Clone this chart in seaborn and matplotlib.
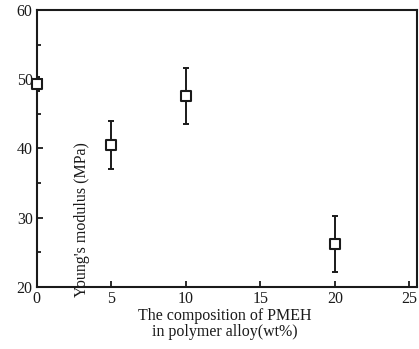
import matplotlib
matplotlib.use("Agg")
import matplotlib.pyplot as plt
import matplotlib.ticker as mticker
import pandas as pd
import seaborn as sns

composition = [0, 5, 10, 20]
modulus = [49.3, 40.5, 47.6, 26.2]
modulus_err = [1.0, 3.5, 4.0, 4.0]

df = pd.DataFrame({"composition": composition, "modulus": modulus, "err": modulus_err})

sns.set_style("ticks")
plt.rcParams["font.family"] = ["Liberation Serif", "DejaVu Serif"]

fig = plt.figure(figsize=(4.19, 3.49), dpi=100)
ax = fig.add_axes([0.088, 0.178, 0.907, 0.793])

ax.errorbar(df["composition"], df["modulus"], yerr=df["err"], fmt="none",
            ecolor="#1a1a1a", elinewidth=1.4, capsize=2.5, capthick=1.4, zorder=2)
sns.scatterplot(data=df, x="composition", y="modulus", ax=ax, marker="s", s=45,
                facecolor="white", edgecolor="#1a1a1a", linewidth=1.5, zorder=3,
                clip_on=False)

ax.set_xlim(0, 25.5)
ax.set_ylim(20, 60)
ax.xaxis.set_major_locator(mticker.MultipleLocator(5))
ax.yaxis.set_major_locator(mticker.MultipleLocator(10))
ax.yaxis.set_minor_locator(mticker.MultipleLocator(5))
ax.tick_params(direction="in", which="both", labelsize=11.5, colors="#1a1a1a",
               width=1.3, pad=3)
ax.tick_params(which="major", length=4)
ax.tick_params(which="minor", length=3)
for s in ax.spines.values():
    s.set_linewidth(1.5)
    s.set_color("#1a1a1a")
ax.set_xlabel("")
ax.set_ylabel("")

fig.text(0.196, 0.37, "Young's modulus (MPa)", rotation=90, ha="center",
         va="center", fontsize=11.5, color="#1a1a1a")
fig.text(0.537, 0.072, "The composition of PMEH\nin polymer alloy(wt%)",
         ha="center", va="center", fontsize=11.5, color="#1a1a1a",
         linespacing=1.05)

fig.savefig("out.png", dpi=100)
